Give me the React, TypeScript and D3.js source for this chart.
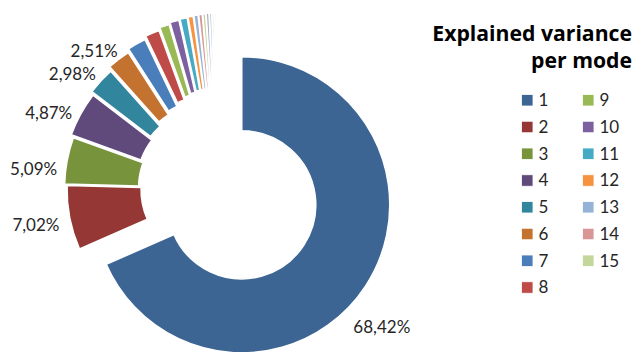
import React from 'react';
import * as d3 from 'd3';

// ---- data ----
const modes = ["1","2","3","4","5","6","7","8","9","10","11","12","13","14","15","16","17","18","19","20"];
const variance = [68.42, 7.02, 5.09, 4.87, 2.98, 2.51, 2.03, 1.55, 1.04, 0.98, 0.77, 0.55, 0.45, 0.38, 0.31, 0.30, 0.25, 0.20, 0.18, 0.12];
const legendModes = modes.slice(0, 15);
const legendTitle = ["Explained variance", "per mode"];

// ---- styles ----
const colors = [
  "#3C6594", "#943735", "#77933C", "#604A7B", "#31859C", "#C4722F",
  "#4A7EBB", "#BE4B48", "#98B954", "#7D60A0", "#46AAC5", "#F69240",
  "#95B3D7", "#D99694", "#C3D69B", "#B3A2C7", "#93CDDD", "#FAC090",
  "#B9CDE5", "#E6B9B8"
];
const explode = [29, 2.5, 5, 8, 11, 15, 18, 21, 23.5, 25, 26, 26.5, 27, 27.5, 27.5, 28, 28, 28, 28, 28];
const labelNudgeDeg = [8, 0, -4.5, -4.5, -4.5, -4.5];

const W = 635, H = 352;
const CX = 217.5, CY = 189;
const R_IN = 74, R_OUT = 148;
const FONT = "Lato, 'Open Sans', sans-serif";
const TITLE_FONT = "'Open Sans', Lato, sans-serif";

const unit = (a: number) => [Math.sin(a), -Math.cos(a)];

export default function App() {
  const pie = d3.pie<number>().sort(null).value(d => d).startAngle(0).endAngle(2 * Math.PI);
  const arcs = pie(variance);
  const arcGen = d3.arc<any>().innerRadius(R_IN).outerRadius(R_OUT);
  const fmt = (v: number) => v.toFixed(2).replace('.', ',') + '%';

  const slices = arcs.map((a, i) => {
    const mid = (a.startAngle + a.endAngle) / 2;
    const [ux, uy] = unit(mid);
    const cx = CX + explode[i] * ux;
    const cy = CY + explode[i] * uy;
    return { a, i, mid, cx, cy };
  });

  const labels = slices.filter(s => variance[s.i] >= 2.5).map(s => {
    const ang = s.mid + (labelNudgeDeg[s.i] || 0) * Math.PI / 180;
    const [ux, uy] = unit(ang);
    const base = s.i === 0 ? { x: s.cx, y: s.cy, r: 186 } : { x: CX, y: CY, r: 185 };
    return { x: base.x + base.r * ux, y: base.y + base.r * uy, text: fmt(variance[s.i]) };
  });

  const legX = [521.5, 582.5];
  const legY0 = 100, legDY = 26.75, perCol = 8;

  return (
    <svg width={W} height={H} style={{ position: 'absolute', left: 0, top: 0, background: '#fff' }}>
      <g>
        {slices.map(s => (
          <path key={s.i}
            d={arcGen(s.a) as string}
            transform={`translate(${s.cx},${s.cy})`}
            fill={colors[s.i]}
            stroke="#fff" strokeWidth={1.5} strokeLinejoin="round" />
        ))}
      </g>
      <g fontFamily={FONT} fontSize={17} fill="#262626">
        {labels.map((l, k) => (
          <text key={k} x={l.x} y={l.y} dy="0.36em" textAnchor="middle">{l.text}</text>
        ))}
      </g>
      <g fontFamily={FONT}>
        {legendTitle.map((t, k) => (
          <text key={k} x={632} y={41 + k * 27} textAnchor="end" fontFamily={TITLE_FONT} fontWeight="bold" fontSize={21.2} fill="#000">{t}</text>
        ))}
        {legendModes.map((m, k) => {
          const col = Math.floor(k / perCol);
          const row = k % perCol;
          const y = legY0 + row * legDY;
          const x = legX[col];
          return (
            <g key={m}>
              <rect x={x} y={y - 5.5} width={11.5} height={11.5} fill={colors[k]} stroke="#fff" strokeWidth={0.8} />
              <text x={x + 17} y={y} dy="0.36em" fontSize={17} fill="#262626">{m}</text>
            </g>
          );
        })}
      </g>
    </svg>
  );
}
